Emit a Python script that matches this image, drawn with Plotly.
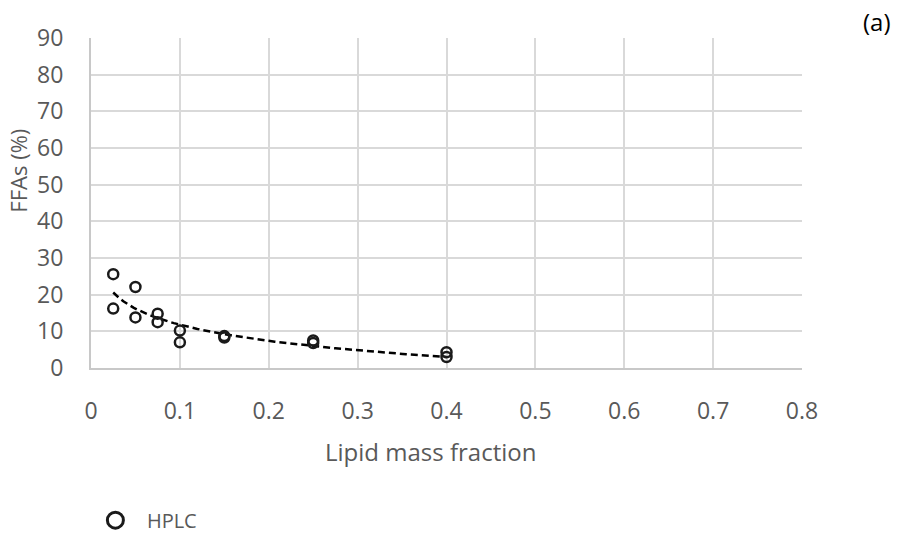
import numpy as np
import plotly.graph_objects as go

# Data
lipid_fraction = [0.025, 0.025, 0.05, 0.05, 0.075, 0.075, 0.1, 0.1, 0.15, 0.15, 0.25, 0.25, 0.4, 0.4]
ffas_percent = [25.6, 16.2, 22.1, 13.8, 14.8, 12.5, 10.2, 7.0, 8.7, 8.3, 7.5, 6.8, 4.3, 3.0]

x_ticks = [0, 0.1, 0.2, 0.3, 0.4, 0.5, 0.6, 0.7, 0.8]
x_tick_labels = ["0", "0.1", "0.2", "0.3", "0.4", "0.5", "0.6", "0.7", "0.8"]
y_ticks = [0, 10, 20, 30, 40, 50, 60, 70, 80, 90]

# Logarithmic trendline fitted to the data (as spreadsheet trendline)
b, a = np.polyfit(np.log(lipid_fraction), ffas_percent, 1)
trend_x = np.linspace(min(lipid_fraction), max(lipid_fraction), 100)
trend_y = a + b * np.log(trend_x)

FONT = "Open Sans"
GREY = "#595959"
MARK = "#1a1a1a"

fig = go.Figure()
fig.add_trace(go.Scatter(
    x=trend_x, y=trend_y, mode="lines",
    line=dict(color="black", width=2.5, dash="7px,4px"),
    showlegend=False, hoverinfo="skip"))
fig.add_trace(go.Scatter(
    x=lipid_fraction, y=ffas_percent, mode="markers", name="HPLC",
    marker=dict(symbol="circle-open", size=10, color=MARK, line=dict(width=2.5, color=MARK)),
    showlegend=False))
# legend entry (larger symbol as in the reference legend)
fig.add_trace(go.Scatter(
    x=[None], y=[None], mode="markers", name="HPLC",
    marker=dict(symbol="circle-open", size=16, color=MARK, line=dict(width=3, color=MARK)),
    showlegend=True))

fig.update_layout(
    width=898, height=539,
    margin=dict(l=91, r=96, t=38, b=171, autoexpand=False),
    paper_bgcolor="white", plot_bgcolor="white",
    font=dict(family=FONT, color=GREY, size=20),
    showlegend=True,
    legend=dict(x=-0.01, y=0.035, xref="paper", yref="container",
                xanchor="left", yanchor="middle", itemwidth=53,
                font=dict(family=FONT, size=20, color=GREY), bgcolor="rgba(0,0,0,0)"),
    xaxis=dict(range=[0, 0.8], tickvals=x_ticks, ticktext=x_tick_labels,
               showgrid=True, gridcolor="#d9d9d9", gridwidth=1.5,
               showline=True, linecolor="#c8c8c8", linewidth=2,
               zeroline=False, ticks="", ticklabelstandoff=21, automargin=False,
               tickfont=dict(size=23, color=GREY, family=FONT)),
    yaxis=dict(range=[0, 90], tickvals=y_ticks,
               showgrid=True, gridcolor="#d9d9d9", gridwidth=1.5,
               showline=True, linecolor="#c8c8c8", linewidth=2,
               zeroline=False, ticks="", ticklabelstandoff=21, automargin=False,
               tickfont=dict(size=23, color=GREY, family=FONT)),
)
fig.add_annotation(text="Lipid mass fraction", xref="paper", yref="paper", x=0.478, y=-0.2536,
                   xanchor="center", yanchor="middle", showarrow=False,
                   font=dict(family=FONT, size=24, color=GREY))
fig.add_annotation(text="FFAs (%)", xref="paper", yref="paper", x=-0.1027, y=0.598,
                   xanchor="center", yanchor="middle", showarrow=False, textangle=-90,
                   font=dict(family=FONT, size=22, color=GREY))
fig.add_annotation(text="(a)", xref="paper", yref="paper", x=1.105, y=1.049,
                   xanchor="center", yanchor="middle", showarrow=False,
                   font=dict(family=FONT, size=24, color="black"))

fig.write_html("out.html", config={"displayModeBar": False},
               post_script="document.body.style.margin='0';")
